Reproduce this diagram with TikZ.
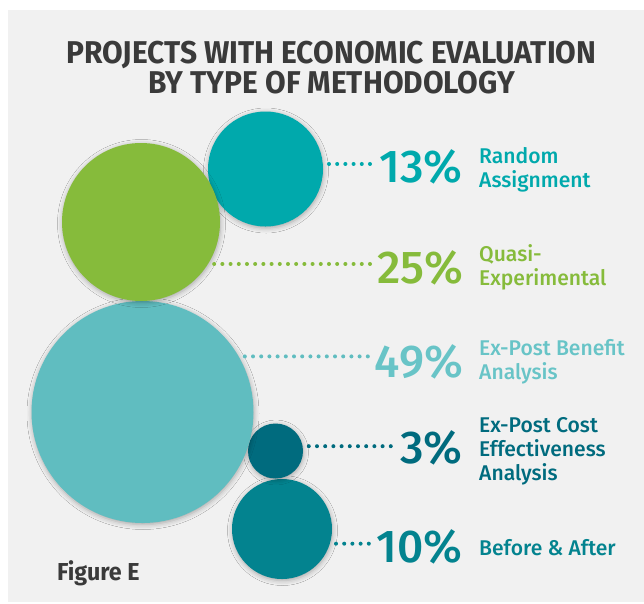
\documentclass[tikz,border=0pt]{standalone}
\usepackage{fontspec}
\setmainfont{Fira Sans}
\newfontfamily\headfont[FakeStretch=0.95]{Fira Sans}
\newfontfamily\numfont{Fira Sans Medium}
\newfontfamily\lblfamily[FakeStretch=0.99]{Fira Sans Medium}
\usetikzlibrary{shadows.blur}

\definecolor{bgcol}{HTML}{F1F1F1}
\definecolor{headcol}{HTML}{3A3A3A}
\definecolor{randcol}{HTML}{00A9AC}
\definecolor{quasicol}{HTML}{86BB3B}
\definecolor{benefitcol}{HTML}{60BDC0}
\definecolor{benefittxt}{HTML}{68C4C7}
\definecolor{costcol}{HTML}{006B7E}
\definecolor{beforecol}{HTML}{03838F}

\begin{document}
\begin{tikzpicture}
      [x=1pt, y=-1pt,
       bubble/.style={circle, inner sep=0pt,
         blur shadow={shadow xshift=0.5pt, shadow yshift=-1.5pt,
           shadow blur radius=5pt, shadow opacity=32}},
       pct/.style={anchor=base east, inner sep=0pt,
         font=\numfont\fontsize{46}{46}\selectfont},
       lbl/.style={anchor=base west, inner sep=0pt, align=left,
         font=\lblfamily\fontsize{21.3}{24}\selectfont},
       dotline/.style={line width=4pt, line cap=round,
         dash pattern=on 0pt off 8.2pt, shorten <=6pt, shorten >=3pt}]
      \useasboundingbox (0,0) rectangle (644,603);
      \fill[white] (0,0) rectangle (644,603);
      \fill[bgcol] (8,10) rectangle (644,602);
      % title
      \node[align=center, inner sep=0pt, anchor=base, text=headcol,
            font=\headfont\bfseries\fontsize{31.5}{30}\selectfont]
            (head) at (331.5, 93.3)
            {PROJECTS WITH ECONOMIC EVALUATION\\BY TYPE OF METHODOLOGY};
      % bubbles
      \node[bubble, fill=beforecol, minimum size=100pt] (before) at (282, 529) {};
      \node[bubble, fill=costcol, minimum size=55pt] (cost) at (275.5, 451) {};
      \node[bubble, fill=benefitcol, minimum size=222pt] (benefit) at (142.5, 412) {};
      \node[bubble, fill=randcol, minimum size=115pt] (rand) at (265.5, 169) {};
      \node[bubble, fill=quasicol, minimum size=158pt] (quasi) at (141, 222) {};
      % percentages
      \node[pct, text=randcol](p13) at (463, 182) {13\%};
      \node[pct, text=quasicol](p25) at (463, 283) {25\%};
      \node[pct, text=benefittxt](p49) at (463, 377) {49\%};
      \node[pct, text=costcol](p3) at (463, 463) {3\%};
      \node[pct, text=beforecol](p10) at (463, 562) {10\%};
      % labels (base = last line)
      \node[lbl, text=randcol](l13) at (479, 187) {Random\\Assignment};
      \node[lbl, text=quasicol](l25) at (479, 285) {Quasi-\\Experimental};
      \node[lbl, text=benefittxt](l49) at (479, 379) {Ex-Post Benefit\\Analysis};
      \node[lbl, text=costcol](l3) at (479, 480) {Ex-Post Cost\\Effectiveness\\Analysis};
      \node[lbl, text=beforecol](l10) at (479, 555) {Before \& After};
      % connectors
      \draw[dotline, randcol](rand.5) -- (rand.5 -| p13.west);
      \draw[dotline, quasicol](quasi.-32) -- (quasi.-32 -| p25.west);
      \draw[dotline, benefitcol](benefit.30) -- (benefit.30 -| p49.west);
      \draw[dotline, costcol](cost.10.5) -- (cost.10.5 -| p3.west);
      \draw[dotline, beforecol](before.-17.5) -- (before.-17.5 -| p10.west);
      \node[anchor=base west, inner sep=0pt, text=headcol,
            font=\headfont\bfseries\fontsize{24.5}{24.5}\selectfont]
            (fig) at (57, 580.7) {Figure E};
  \end{tikzpicture}
\end{document}
